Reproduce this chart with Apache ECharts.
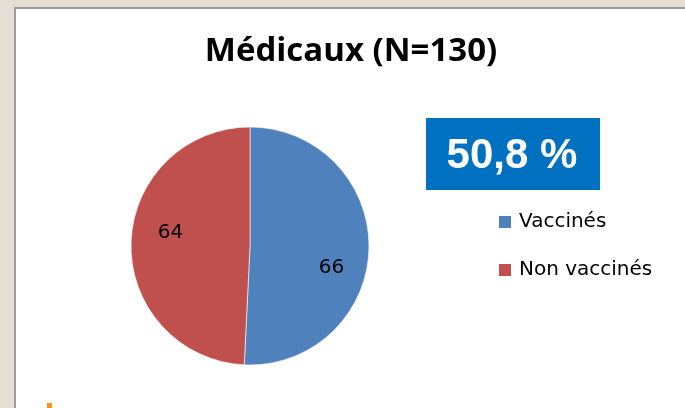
<!DOCTYPE html>
<html>
<head>
<meta charset="utf-8">
<script src="https://cdn.jsdelivr.net/npm/echarts@6/dist/echarts.min.js"></script>
<style>
  html, body { margin: 0; padding: 0; background: #e4ded4; }
  #chart { width: 685px; height: 408px; }
</style>
</head>
<body>
<div id="chart"></div>
<script>
// data
const categories = ['Vaccinés', 'Non vaccinés'];
const values = [66, 64];
const colors = ['#4f81bd', '#c0504d'];
const titleText = 'Médicaux (N=130)';
const shareText = '50,8 %';

const chart = echarts.init(document.getElementById('chart'));

// nudge the inside labels a bit like the original
const labelOffsets = [[19, 20], [-17, -12]];

const option = {
  backgroundColor: '#e4ded4',
  title: {
    text: titleText,
    left: 346,
    top: 30,
    textAlign: 'center',
    textStyle: { fontFamily: 'Open Sans', fontWeight: 'bold', fontSize: 33, color: '#000' }
  },
  legend: {
    orient: 'vertical',
    left: 492,
    top: 207,
    itemWidth: 14,
    itemHeight: 14,
    itemGap: 28,
    icon: 'rect',
    data: categories,
    textStyle: { fontFamily: 'DejaVu Sans', fontSize: 20, lineHeight: 20, color: '#000', padding: [0, 0, 0, 2] }
  },
  graphic: [
    {
      type: 'rect', z: -10,
      shape: { x: 15, y: 8, width: 700, height: 420 },
      style: { fill: '#fff', stroke: '#9a9a9a', lineWidth: 2 }
    },
    {
      type: 'rect',
      shape: { x: 426, y: 118, width: 174, height: 72 },
      style: { fill: '#0070c0' }
    },
    {
      type: 'text',
      x: 512, y: 156,
      style: {
        text: shareText, fill: '#fff', align: 'center', verticalAlign: 'middle',
        font: 'bold 42px "Liberation Sans"'
      }
    },
    {
      type: 'rect',
      shape: { x: 47, y: 403, width: 5, height: 6 },
      style: { fill: '#f7941d' }
    }
  ],
  series: [{
    type: 'pie',
    center: [250, 246],
    radius: 119,
    startAngle: 90,
    clockwise: true,
    animation: false,
    itemStyle: { borderColor: '#fff', borderWidth: 0.6 },
    label: {
      show: true,
      position: 'inside',
      formatter: '{c}',
      fontFamily: 'DejaVu Sans',
      fontSize: 20,
      color: '#000'
    },
    labelLine: { show: false },
    emphasis: { disabled: true },
    data: categories.map((name, i) => ({
      name,
      value: values[i],
      itemStyle: { color: colors[i] },
      label: { offset: labelOffsets[i] }
    }))
  }]
};

chart.setOption(option);
</script>
</body>
</html>
